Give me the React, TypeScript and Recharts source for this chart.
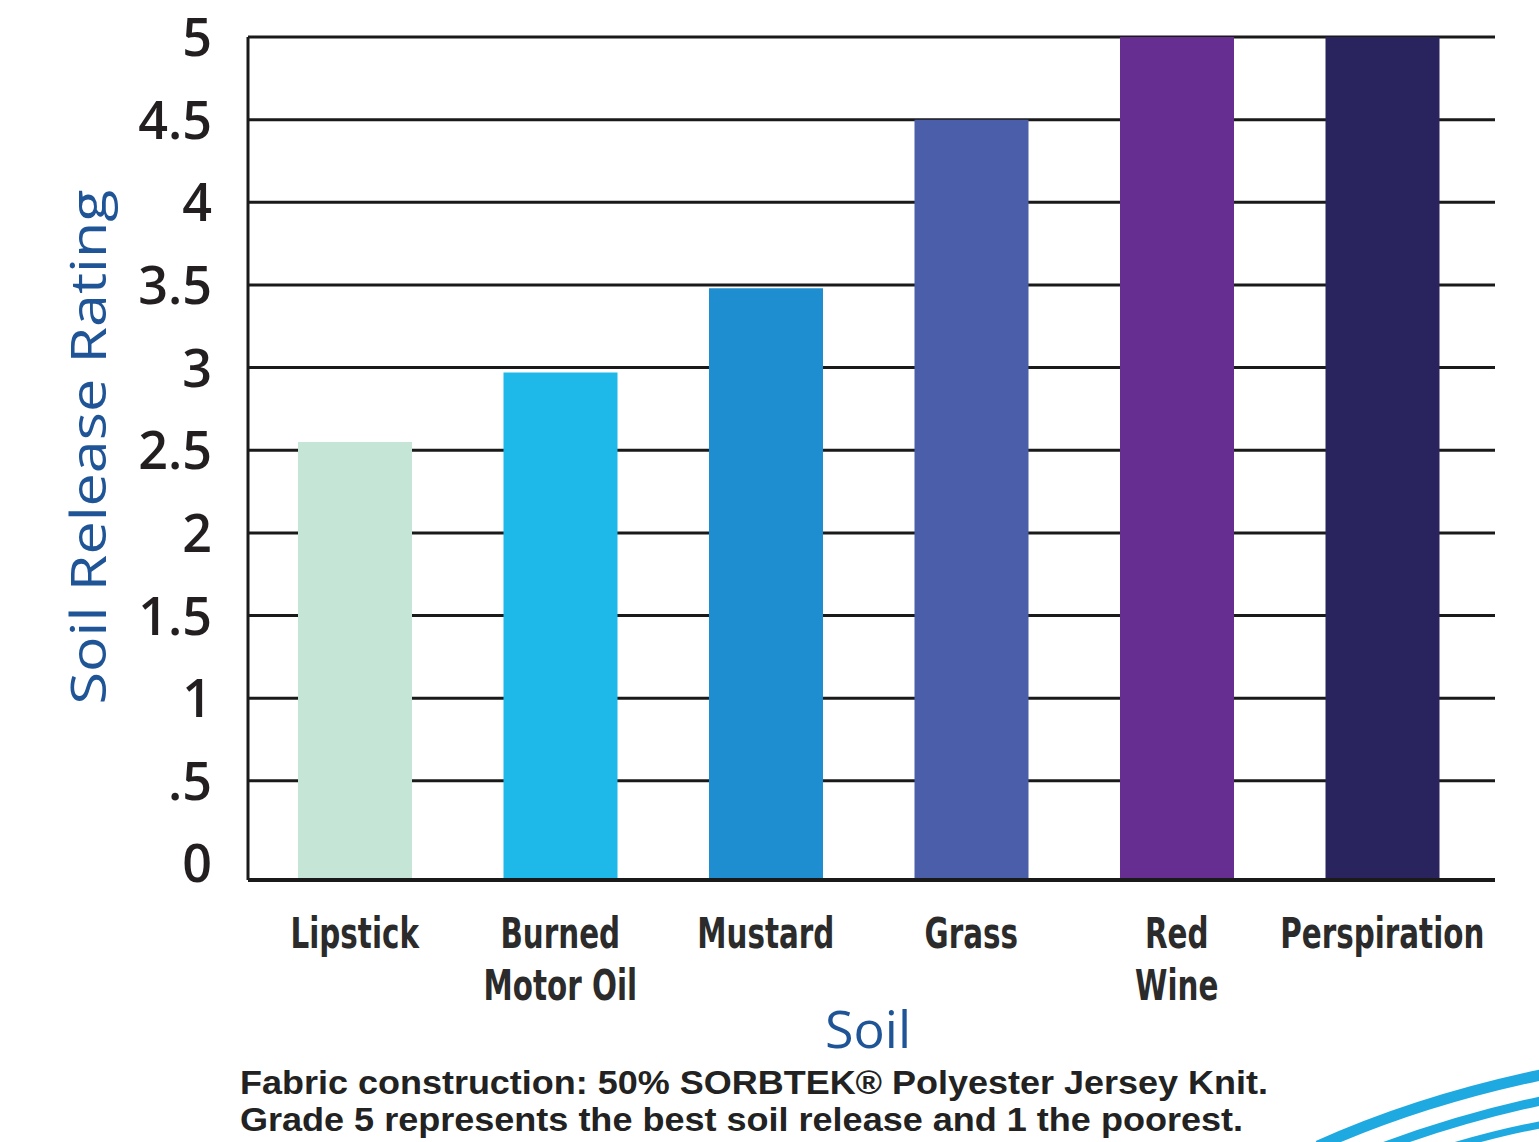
import React from "react";
import { BarChart, Bar, XAxis, YAxis, CartesianGrid, Cell } from "recharts";

const categories = ["Lipstick", "Burned\nMotor Oil", "Mustard", "Grass", "Red\nWine", "Perspiration"];
const ratings = [2.55, 2.97, 3.48, 4.5, 5, 5];
const barColors = ["#c5e5d6", "#1fb9e9", "#1e8ed0", "#4a5eaa", "#652e90", "#29245d"];
const yTicks = [0, 0.5, 1, 1.5, 2, 2.5, 3, 3.5, 4, 4.5, 5];
const gridValues = [0.5, 1, 1.5, 2, 2.5, 3, 3.5, 4, 4.5, 5];
const Y_MIN = -0.1;
const Y_MAX = 5;

const data = categories.map((c, i) => ({ name: c, range: [Y_MIN, ratings[i]] }));

const fmtTick = (v: number) => (v === 0.5 ? ".5" : String(v));

const YTick = (props: any) => {
  const { x, y, payload } = props;
  return (
    <text x={x} y={y} dy={19} textAnchor="end" fill="#231f20"
      style={{ fontFamily: "'Open Sans', sans-serif", fontSize: 52, fontWeight: 600 }}>
      {fmtTick(payload.value)}
    </text>
  );
};

const XTick = (props: any) => {
  const { x, y, payload } = props;
  const lines = String(payload.value).split("\n");
  return (
    <g transform={`translate(${x}, ${y}) scale(0.7, 1)`}>
      <text x={0} y={0} textAnchor="middle" fill="#2b2b2b"
        style={{ fontFamily: "'DejaVu Sans', sans-serif", fontSize: 42, fontWeight: 700 }}>
        {lines.map((l, i) => (
          <tspan key={i} x={0} dy={i === 0 ? 68 : 52}>{l}</tspan>
        ))}
      </text>
    </g>
  );
};

export default function App() {
  return (
    <div style={{ position: "absolute", left: 0, top: 0, width: 1539, height: 1142, background: "#fff" }}>
      <BarChart width={1539} height={1142} data={data}
        margin={{ top: 37, right: 44, left: 0, bottom: 0 }}>
        <CartesianGrid yAxisId="left" vertical={false} horizontalValues={gridValues}
          stroke="#1a1a1a" strokeWidth={3} />
        <XAxis dataKey="name" height={262} tick={<XTick />} tickLine={false} tickSize={0} tickMargin={0}
          axisLine={{ stroke: "#1a1a1a", strokeWidth: 4 }} padding={{ left: 4, right: 10 }} interval={0} />
        <YAxis yAxisId="left" width={248} domain={[Y_MIN, Y_MAX]} ticks={yTicks} type="number"
          allowDataOverflow tick={<YTick />} tickLine={false} tickSize={0} tickMargin={36}
          axisLine={{ stroke: "#1a1a1a", strokeWidth: 3 }} />
        <YAxis yAxisId="right" orientation="right" width={0} domain={[Y_MIN, Y_MAX]} type="number"
          tick={false} tickLine={false} axisLine={{ stroke: "#1a1a1a", strokeWidth: 3 }} />
        <Bar yAxisId="left" dataKey="range" barSize={114} isAnimationActive={false}>
          {data.map((d, i) => (
            <Cell key={d.name} fill={barColors[i]} />
          ))}
        </Bar>
      </BarChart>
      <svg width={1539} height={1142} style={{ position: "absolute", left: 0, top: 0, pointerEvents: "none" }}>
        <text x={106} y={447} transform="rotate(-90, 106, 447)" textAnchor="middle" fill="#1f5596"
          textLength={515} lengthAdjust="spacingAndGlyphs"
          style={{ fontFamily: "'Open Sans', sans-serif", fontSize: 50, fontWeight: 500 }}>
          Soil Release Rating
        </text>
        <text x={868} y={1048} textAnchor="middle" fill="#1f5596"
          style={{ fontFamily: "'Open Sans', sans-serif", fontSize: 52, fontWeight: 500 }}>
          Soil
        </text>
        <text x={240} y={1094} fill="#222" textLength={1028} lengthAdjust="spacingAndGlyphs"
          style={{ fontFamily: "'Liberation Sans', Arial, sans-serif", fontSize: 33, fontWeight: 700 }}>
          Fabric construction: 50% SORBTEK® Polyester Jersey Knit.
        </text>
        <text x={240} y={1131} fill="#222" textLength={1003} lengthAdjust="spacingAndGlyphs"
          style={{ fontFamily: "'Liberation Sans', Arial, sans-serif", fontSize: 33, fontWeight: 700 }}>
          Grade 5 represents the best soil release and 1 the poorest.
        </text>
        <path d="M1318 1146 Q1420 1100 1545 1074" stroke="#1fa9e1" strokeWidth={11} fill="none" />
        <path d="M1380 1148 Q1460 1118 1545 1100" stroke="#1fa9e1" strokeWidth={9} fill="none" />
        <path d="M1440 1150 Q1500 1132 1545 1124" stroke="#1fa9e1" strokeWidth={7} fill="none" />
      </svg>
    </div>
  );
}
